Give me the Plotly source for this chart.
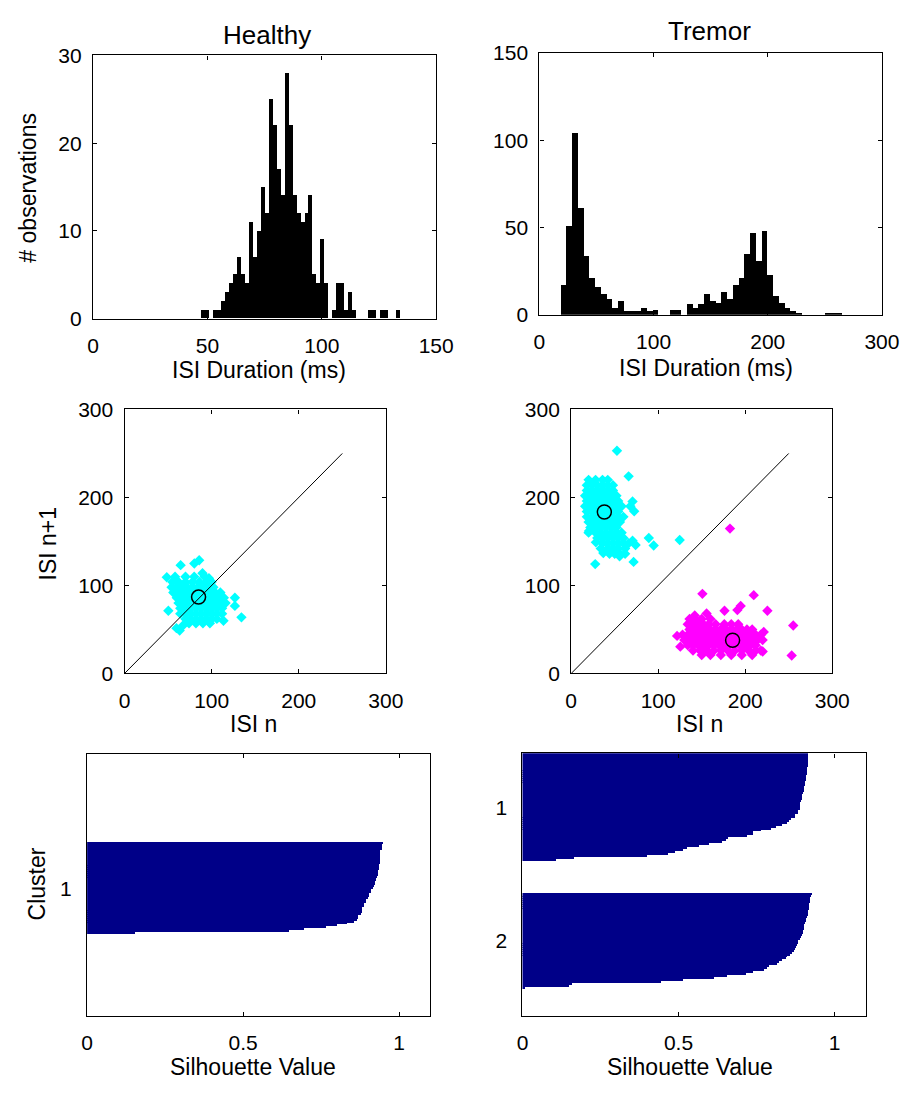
import plotly.graph_objects as go

W, H = 922, 1093

# ---------------- data ----------------
# ISI histograms (50 bins each)
healthy_bin_start = 47.4
healthy_bin_width = 1.732
healthy_counts = [1, 1, 0, 1, 1, 2, 3, 4, 5, 7,
                  5, 4, 11, 7, 10, 15, 12, 25, 22, 17,
                  14, 28, 22, 14, 12, 11, 12, 14, 5, 4,
                  9, 4, 0, 1, 4, 4, 1, 3, 1, 0,
                  0, 0, 1, 1, 0, 1, 1, 0, 0, 1]
tremor_bin_start = 19.0
tremor_bin_width = 5.03
tremor_counts = [17, 51, 104, 61, 34, 21, 16, 12, 9, 4,
                 8, 2, 2, 2, 4, 2, 3, 0, 0, 3,
                 3, 0, 6, 4, 6, 12, 8, 7, 13, 9,
                 17, 21, 35, 47, 31, 48, 23, 11, 7, 4,
                 2, 1, 0, 0, 0, 0, 1, 1, 1, 0]

# return maps (ISI n, ISI n+1)
healthy_isi_n = [58, 70, 80, 92,
                 55, 62, 70, 78, 86, 94, 100,
                 54, 60, 66, 72, 78, 84, 90, 96, 102,
                 56, 62, 68, 74, 80, 86, 92, 98, 104, 110,
                 60, 66, 72, 78, 84, 90, 96, 102, 108, 114,
                 62, 68, 74, 80, 86, 92, 98, 104, 110, 116,
                 64, 70, 76, 82, 88, 94, 100, 106, 112,
                 64, 70, 76, 82, 88, 94, 100, 106, 112,
                 70, 76, 82, 88, 94, 100, 106,
                 74, 82, 90, 98,
                 48.5, 64.4, 80.1, 85.7, 89.5, 96.9, 50.3, 67.1, 63.3, 126.7, 126.7, 134.2, 113.6, 59.6]
healthy_isi_n1 = [110, 110, 110, 110,
                  104, 104, 104, 104, 104, 104, 104,
                  98, 98, 98, 98, 98, 98, 98, 98, 98,
                  92, 92, 92, 92, 92, 92, 92, 92, 92, 92,
                  86, 86, 86, 86, 86, 86, 86, 86, 86, 86,
                  80, 80, 80, 80, 80, 80, 80, 80, 80, 80,
                  74, 74, 74, 74, 74, 74, 74, 74, 74,
                  68, 68, 68, 68, 68, 68, 68, 68, 68,
                  62, 62, 62, 62, 62, 62, 62,
                  57, 57, 57, 57,
                  109.4, 123.1, 125, 128.7, 113.9, 108.3, 71.2, 54.5, 48.9, 86.1, 76.8, 63.8, 60, 51.5]
healthy_centroid = [85, 86.8]

tremor_c1_isi_n = [20, 28, 36, 42,
                   18, 24, 30, 36, 42, 48,
                   18, 24, 30, 36, 42, 48,
                   16, 22, 28, 34, 40, 46, 52,
                   18, 24, 30, 36, 42, 48, 54,
                   16, 22, 28, 34, 40, 46, 52, 58,
                   18, 24, 30, 36, 42, 48, 54,
                   18, 24, 30, 36, 42, 48, 54, 60,
                   20, 26, 32, 38, 44, 50, 56,
                   22, 28, 34, 40, 46, 52,
                   20, 28, 34, 40, 46, 52, 58,
                   30, 36, 42, 48, 54, 60,
                   36, 42, 48, 54, 60, 66,
                   34, 42, 48, 54, 62,
                   44, 50, 56, 62,
                   52.6, 66, 70.5, 72.4, 89.2, 94.8, 124.7, 27.6, 71.7, 28.4, 36.9, 70.5, 55.6, 20.5, 68, 74]
tremor_c1_isi_n1 = [220, 220, 220, 220,
                    214, 214, 214, 214, 214, 214,
                    208, 208, 208, 208, 208, 208,
                    202, 202, 202, 202, 202, 202, 202,
                    196, 196, 196, 196, 196, 196, 196,
                    190, 190, 190, 190, 190, 190, 190, 190,
                    184, 184, 184, 184, 184, 184, 184,
                    178, 178, 178, 178, 178, 178, 178, 178,
                    172, 172, 172, 172, 172, 172, 172,
                    166, 166, 166, 166, 166, 166,
                    160, 160, 160, 160, 160, 160, 160,
                    154, 154, 154, 154, 154, 154,
                    148, 148, 148, 148, 148, 148,
                    142, 142, 142, 142, 142,
                    136, 136, 136, 136,
                    253, 224, 195.4, 184.3, 154, 145.4, 151.7, 124.3, 126.8, 149, 136.8, 150.9, 133.1, 162, 190, 146]
tremor_c1_centroid = [38.1, 183.5]

tremor_c2_isi_n = [136, 142, 150, 160,
                   134, 140, 146, 152, 158, 166, 176, 184, 192,
                   136, 142, 148, 154, 160, 166, 172, 178, 184, 190, 196, 202, 208,
                   128, 134, 140, 146, 152, 158, 164, 170, 176, 182, 188, 194, 200, 206, 212, 218,
                   130, 136, 142, 148, 154, 160, 166, 172, 178, 184, 190, 196, 202, 208, 214, 220,
                   134, 140, 146, 152, 158, 164, 170, 176, 182, 188, 194, 200, 206, 212,
                   140, 148, 156, 164, 172, 180, 188, 196, 204, 212, 218,
                   150, 160, 172, 184, 196, 208,
                   182.5, 150.8, 209.8, 155.6, 176.2, 194.8, 191, 225.5, 255.2, 253.4, 121.7, 125.4, 137, 221.3, 220.1, 142, 148]
tremor_c2_isi_n1 = [62, 62, 62, 62,
                    56, 56, 56, 56, 56, 56, 56, 56, 56,
                    50, 50, 50, 50, 50, 50, 50, 50, 50, 50, 50, 50, 50,
                    44, 44, 44, 44, 44, 44, 44, 44, 44, 44, 44, 44, 44, 44, 44, 44,
                    38, 38, 38, 38, 38, 38, 38, 38, 38, 38, 38, 38, 38, 38, 38, 38,
                    32, 32, 32, 32, 32, 32, 32, 32, 32, 32, 32, 32, 32, 32,
                    26, 26, 26, 26, 26, 26, 26, 26, 26, 26, 26,
                    21, 21, 21, 21, 21, 21,
                    164.6, 90.5, 89, 68.3, 71.2, 76.8, 72, 71.2, 54.5, 20.5, 42.7, 30.5, 58.3, 47.2, 24.9, 66, 60]
tremor_c2_centroid = [185.5, 37.8]

identity_line = [0, 250]

# silhouette values (sorted, per cluster)
healthy_sil = [0.95, 0.945, 0.945, 0.945, 0.94, 0.94, 0.94, 0.94, 0.94, 0.94,
               0.94, 0.935, 0.935, 0.935, 0.932, 0.932, 0.932, 0.93, 0.927, 0.927,
               0.922, 0.922, 0.92, 0.917, 0.91, 0.91, 0.905, 0.903, 0.9, 0.894,
               0.894, 0.887, 0.887, 0.882, 0.88, 0.88, 0.878, 0.87, 0.87, 0.865,
               0.855, 0.833, 0.80, 0.766, 0.696, 0.646, 0.154]
tremor_sil_1 = [0.918, 0.918, 0.918, 0.917, 0.916, 0.916, 0.915, 0.913, 0.913, 0.913,
                0.912, 0.909, 0.909, 0.909, 0.908, 0.908, 0.907, 0.904, 0.904, 0.903,
                0.902, 0.897, 0.897, 0.896, 0.895, 0.892, 0.892, 0.891, 0.89, 0.886,
                0.885, 0.875, 0.874, 0.862, 0.855, 0.848, 0.832, 0.815, 0.799, 0.767,
                0.741, 0.74, 0.72, 0.66, 0.653, 0.64, 0.60, 0.567, 0.53, 0.515,
                0.49, 0.468, 0.40, 0.166, 0.109]
tremor_sil_2 = [0.931, 0.927, 0.924, 0.924, 0.923, 0.921, 0.921, 0.92, 0.92, 0.917,
                0.916, 0.915, 0.912, 0.91, 0.91, 0.908, 0.905, 0.905, 0.903, 0.9,
                0.899, 0.896, 0.893, 0.891, 0.886, 0.884, 0.882, 0.879, 0.876, 0.872,
                0.864, 0.858, 0.848, 0.845, 0.832, 0.825, 0.817, 0.79, 0.785, 0.775,
                0.74, 0.718, 0.656, 0.614, 0.515, 0.447, 0.16, 0.15, 0.008]
tremor_sil_2_first_row = 72.35

# ---------------- styling ----------------
FONT = "Liberation Sans, Arial, Helvetica, sans-serif"
TICK_FONT = dict(family=FONT, size=21, color="black")
NAVY = "#000088"
CYAN = "#00FFFF"
MAGENTA = "#FF00FF"
MARKER_SIZE = 8
SIL_ROW = 1.15  # slight overlap so the stacked rows read as one solid shape


def bin_centers(start, width, n):
    return [start + width * (k + 0.5) for k in range(n)]


fig = go.Figure()

# Panel 1: healthy histogram
fig.add_trace(go.Bar(x=bin_centers(healthy_bin_start, healthy_bin_width, len(healthy_counts)),
                     y=healthy_counts, width=healthy_bin_width,
                     marker=dict(color="black", line=dict(width=0)),
                     xaxis="x", yaxis="y", showlegend=False))
# Panel 2: tremor histogram
fig.add_trace(go.Bar(x=bin_centers(tremor_bin_start, tremor_bin_width, len(tremor_counts)),
                     y=tremor_counts, width=tremor_bin_width,
                     marker=dict(color="black", line=dict(width=0)),
                     xaxis="x2", yaxis="y2", showlegend=False))

# Panel 3: healthy return map
fig.add_trace(go.Scatter(x=healthy_isi_n, y=healthy_isi_n1, mode="markers",
                         marker=dict(symbol="diamond", size=MARKER_SIZE, color=CYAN, line=dict(width=0)),
                         xaxis="x3", yaxis="y3", showlegend=False))
fig.add_trace(go.Scatter(x=identity_line, y=identity_line, mode="lines",
                         line=dict(color="black", width=1),
                         xaxis="x3", yaxis="y3", showlegend=False))
fig.add_trace(go.Scatter(x=[healthy_centroid[0]], y=[healthy_centroid[1]], mode="markers",
                         marker=dict(symbol="circle-open", size=14, color="black", line=dict(width=1.5)),
                         xaxis="x3", yaxis="y3", showlegend=False))

# Panel 4: tremor return map
fig.add_trace(go.Scatter(x=tremor_c1_isi_n, y=tremor_c1_isi_n1, mode="markers",
                         marker=dict(symbol="diamond", size=MARKER_SIZE, color=CYAN, line=dict(width=0)),
                         xaxis="x4", yaxis="y4", showlegend=False))
fig.add_trace(go.Scatter(x=tremor_c2_isi_n, y=tremor_c2_isi_n1, mode="markers",
                         marker=dict(symbol="diamond", size=MARKER_SIZE, color=MAGENTA, line=dict(width=0)),
                         xaxis="x4", yaxis="y4", showlegend=False))
fig.add_trace(go.Scatter(x=identity_line, y=identity_line, mode="lines",
                         line=dict(color="black", width=1),
                         xaxis="x4", yaxis="y4", showlegend=False))
fig.add_trace(go.Scatter(x=[tremor_c1_centroid[0], tremor_c2_centroid[0]],
                         y=[tremor_c1_centroid[1], tremor_c2_centroid[1]], mode="markers",
                         marker=dict(symbol="circle-open", size=14, color="black", line=dict(width=1.5)),
                         xaxis="x4", yaxis="y4", showlegend=False))

# Panel 5: healthy silhouette
fig.add_trace(go.Bar(x=healthy_sil, y=list(range(1, len(healthy_sil) + 1)), orientation="h",
                     width=SIL_ROW, marker=dict(color=NAVY, line=dict(width=0)),
                     xaxis="x5", yaxis="y5", showlegend=False))
# Panel 6: tremor silhouette
fig.add_trace(go.Bar(x=tremor_sil_1, y=list(range(1, len(tremor_sil_1) + 1)), orientation="h",
                     width=SIL_ROW, marker=dict(color=NAVY, line=dict(width=0)),
                     xaxis="x6", yaxis="y6", showlegend=False))
fig.add_trace(go.Bar(x=tremor_sil_2,
                     y=[tremor_sil_2_first_row + k for k in range(len(tremor_sil_2))], orientation="h",
                     width=SIL_ROW, marker=dict(color=NAVY, line=dict(width=0)),
                     xaxis="x6", yaxis="y6", showlegend=False))


def dom_x(a, b):
    return [a / W, b / W]


def dom_y(top, bottom):
    return [1 - bottom / H, 1 - top / H]


def axis(domain, rng, tickvals, ticktext, anchor, ticks="inside", standoff=6):
    return dict(domain=domain, range=rng, tickvals=tickvals, ticktext=ticktext,
                ticks=ticks, ticklen=4, tickwidth=1, tickcolor="black",
                mirror="allticks" if ticks else True, showline=True, linecolor="black", linewidth=1.3,
                showgrid=False, zeroline=False, anchor=anchor, tickfont=TICK_FONT,
                ticklabelstandoff=standoff, fixedrange=True)


layout_axes = dict(
    xaxis=axis(dom_x(89.3, 441.7), [0, 150], [0, 50, 100, 150], ["0", "50", "100", "150"], "y", standoff=8),
    yaxis=axis(dom_y(44.3, 313.3), [0, 30], [0, 10, 20, 30], ["0", "10", "20", "30"], "x"),
    xaxis2=axis(dom_x(547.7, 899.3), [0, 300], [0, 100, 200, 300], ["0", "100", "200", "300"], "y2", standoff=8),
    yaxis2=axis(dom_y(41.7, 309.3), [0, 150], [0, 50, 100, 150], ["0", "50", "100", "150"], "x2"),
    xaxis3=axis(dom_x(121.7, 390.0), [0, 300], [0, 100, 200, 300], ["0", "100", "200", "300"], "y3", standoff=8),
    yaxis3=axis(dom_y(406.0, 675.7), [0, 300], [0, 100, 200, 300], ["0", "100", "200", "300"], "x3"),
    xaxis4=axis(dom_x(580.3, 848.3), [0, 300], [0, 100, 200, 300], ["0", "100", "200", "300"], "y4", standoff=8),
    yaxis4=axis(dom_y(406.0, 675.7), [0, 300], [0, 100, 200, 300], ["0", "100", "200", "300"], "x4"),
    xaxis5=axis(dom_x(83.3, 435.7), [0, 1.1], [0, 0.5, 1], ["0", "0.5", "1"], "y5", standoff=8),
    yaxis5=axis(dom_y(758.3, 1025.7), [89.2, -44.5], [24], ["1"], "x5", ticks="", standoff=10),
    xaxis6=axis(dom_x(530.3, 882.7), [0, 1.1], [0, 0.5, 1], ["0", "0.5", "1"], "y6", standoff=8),
    yaxis6=axis(dom_y(757.3, 1025.7), [134.7, 0.5], [28, 96], ["1", "2"], "x6", ticks="", standoff=10),
)

# titles and axis labels as annotations (pixel centres from the reference)
labels = [
    ("Healthy", 268, 24, 26, 0),
    ("Tremor", 722, 19, 26, 0),
    ("# observations", 23, 179, 23, -90),
    ("ISI Duration (ms)", 260, 366, 23, 0),
    ("ISI Duration (ms)", 719, 364, 23, 0),
    ("ISI n+1", 43, 543, 23, -90),
    ("ISI n", 254, 727, 23, 0),
    ("ISI n", 712, 727, 23, 0),
    ("Cluster", 32, 891, 23, -90),
    ("Silhouette Value", 254, 1078, 23, 0),
    ("Silhouette Value", 702, 1078, 23, 0),
]
annotations = [dict(text=t, x=px / W, y=1 - py / H, xref="paper", yref="paper",
                    xanchor="center", yanchor="middle", showarrow=False, textangle=ang,
                    font=dict(family=FONT, size=sz, color="black"))
               for (t, px, py, sz, ang) in labels]

fig.update_layout(width=W, height=H, autosize=False,
                  margin=dict(l=0, r=0, t=0, b=0),
                  paper_bgcolor="white", plot_bgcolor="white",
                  bargap=0, showlegend=False,
                  annotations=annotations, **layout_axes)

fig.write_html("out.html")
